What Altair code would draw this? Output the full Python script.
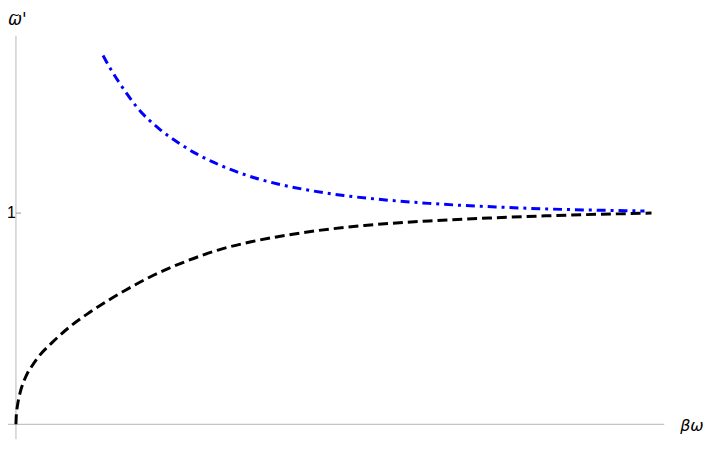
import altair as alt
import pandas as pd

# Black dashed curve (lower branch)
black_x = [0, 0.005, 0.015, 0.03, 0.05, 0.08, 0.12, 0.17, 0.25, 0.33, 0.58, 0.84, 1.15, 1.47, 1.73, 2.14, 2.67, 3.18, 3.70, 4.23, 4.74, 5.48, 6.50, 7.55, 8.33, 10.0]
black_y = [0, 0.04, 0.07, 0.10, 0.13, 0.165, 0.20, 0.235, 0.275, 0.31, 0.39, 0.46, 0.528, 0.59, 0.636, 0.702, 0.771, 0.825, 0.864, 0.894, 0.917, 0.941, 0.963, 0.978, 0.987, 1.0]

# Blue dash-dot curve (upper branch)
blue_x = [1.37, 1.51, 1.73, 1.93, 2.25, 2.56, 2.82, 3.07, 3.60, 4.12, 4.63, 5.16, 5.68, 6.50, 7.55, 8.33, 9.89]
blue_y = [1.746, 1.672, 1.572, 1.492, 1.400, 1.332, 1.284, 1.246, 1.182, 1.138, 1.107, 1.083, 1.066, 1.046, 1.029, 1.020, 1.010]

y_ticks = [1]
y_tick_labels = ["1"]
x_label = "βω"
y_label = "ω'"
y_label_accent = "~"

# scale geometry
XMIN, XMAX = -0.1248, 10.857
YMIN, YMAX = -0.0704, 1.9624
W, H = 704, 433

xs = alt.Scale(domain=[XMIN, XMAX], nice=False, zero=False)
ys = alt.Scale(domain=[YMIN, YMAX], nice=False, zero=False)

black = pd.DataFrame({"x": black_x, "y": black_y})
blue = pd.DataFrame({"x": blue_x, "y": blue_y})

axis_color = "#c4c4c4"

xaxis = alt.Chart(pd.DataFrame({"x": [XMIN], "x2": [10.2], "y": [0]})).mark_rule(
    color=axis_color, strokeWidth=1.2
).encode(x=alt.X("x:Q", scale=xs, axis=None), x2="x2:Q", y=alt.Y("y:Q", scale=ys, axis=None))

yaxis = alt.Chart(pd.DataFrame({"x": [0], "y": [YMIN], "y2": [1.84]})).mark_rule(
    color=axis_color, strokeWidth=1.2
).encode(x=alt.X("x:Q", scale=xs, axis=None), y=alt.Y("y:Q", scale=ys, axis=None), y2="y2:Q")

tick_df = pd.DataFrame({"x": [0] * len(y_ticks), "x2": [0.08] * len(y_ticks),
                        "xl": [-0.07] * len(y_ticks), "y": y_ticks, "label": y_tick_labels})
ticks = alt.Chart(tick_df).mark_rule(color="#999999", strokeWidth=1).encode(
    x=alt.X("x:Q", scale=xs, axis=None), x2="x2:Q", y=alt.Y("y:Q", scale=ys, axis=None)
)
tick_labels = alt.Chart(tick_df).mark_text(
    align="center", baseline="middle", fontSize=16, font="Liberation Sans", color="black"
).encode(x=alt.X("xl:Q", scale=xs, axis=None), y=alt.Y("y:Q", scale=ys, axis=None), text="label:N")

xlab = alt.Chart(pd.DataFrame({"x": [10.45], "y": [0], "t": [x_label]})).mark_text(
    align="left", baseline="middle", fontSize=16, font="DejaVu Sans", fontStyle="italic", color="black", dy=2
).encode(x=alt.X("x:Q", scale=xs, axis=None), y=alt.Y("y:Q", scale=ys, axis=None), text="t:N")

ylab = alt.Chart(pd.DataFrame({"x": [XMIN], "y": [1.912], "t": [y_label]})).mark_text(
    align="left", baseline="middle", fontSize=17, font="DejaVu Sans", fontStyle="italic", color="black", dx=0
).encode(x=alt.X("x:Q", scale=xs, axis=None), y=alt.Y("y:Q", scale=ys, axis=None), text="t:N")

ylab_tilde = alt.Chart(pd.DataFrame({"x": [XMIN], "y": [1.912], "t": [y_label_accent]})).mark_text(
    align="left", baseline="middle", fontSize=12, font="DejaVu Sans", color="black", dx=2, dy=-6
).encode(x=alt.X("x:Q", scale=xs, axis=None), y=alt.Y("y:Q", scale=ys, axis=None), text="t:N")

black_line = alt.Chart(black).mark_line(
    color="black", strokeWidth=3, strokeDash=[10, 5], interpolate="monotone"
).encode(x=alt.X("x:Q", scale=xs, axis=None), y=alt.Y("y:Q", scale=ys, axis=None))

blue_line = alt.Chart(blue).mark_line(
    color="#0000ff", strokeWidth=3, strokeDash=[9, 5, 3, 5], interpolate="monotone"
).encode(x=alt.X("x:Q", scale=xs, axis=None), y=alt.Y("y:Q", scale=ys, axis=None))

chart = alt.layer(xaxis, yaxis, ticks, tick_labels, xlab, ylab, ylab_tilde, black_line, blue_line).properties(
    width=W, height=H, padding=0, autosize=alt.AutoSizeParams(type="none")
).configure_view(stroke=None)

chart.save("out.html", embed_options={"renderer": "svg", "actions": False})
